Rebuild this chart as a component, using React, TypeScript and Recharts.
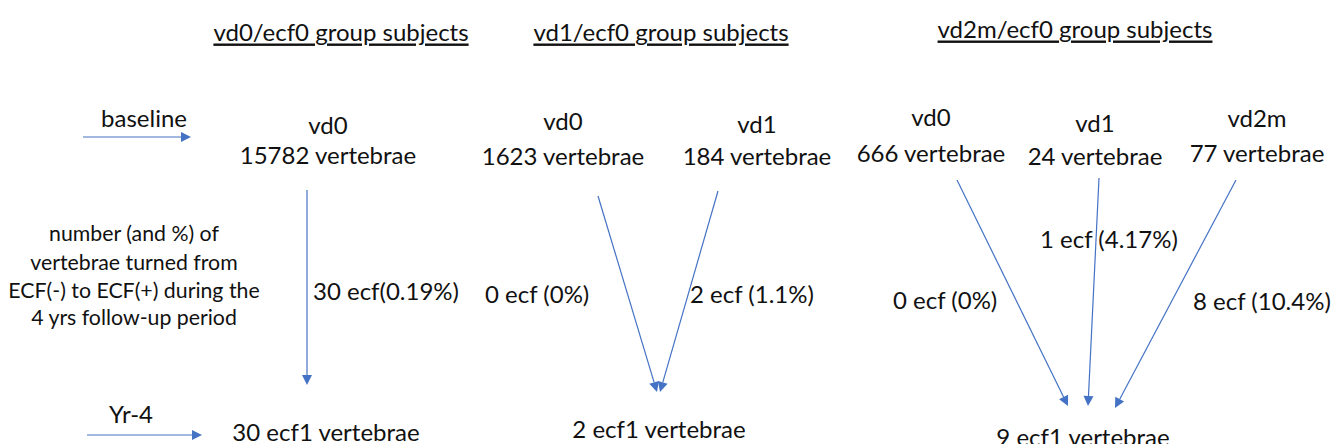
import React from "react";
import { ComposedChart, XAxis, YAxis, Scatter, ReferenceLine } from "recharts";

const W = 1331;
const H = 444;
const BLUE = "#4472C4";

// group headings
const groupTitles = ["vd0/ecf0 group subjects", "vd1/ecf0 group subjects", "vd2m/ecf0 group subjects"];
const groupTitleX = [341, 661, 1075];
const groupTitleY = [31, 31, 28];

// baseline nodes (vd grade + vertebrae count)
const baseNames = ["vd0", "vd0", "vd1", "vd0", "vd1", "vd2m"];
const baseCounts = [15782, 1623, 184, 666, 24, 77];
const baseX = [328, 563, 757, 931, 1095, 1257];
const baseNameY = [124, 120, 123, 116, 122, 117];
const baseCountY = [154, 155, 155, 152, 155, 152];

// ecf transitions during follow-up
const ecfLabels = ["30 ecf(0.19%)", "0 ecf (0%)", "2 ecf (1.1%)", "0 ecf (0%)", "1 ecf (4.17%)", "8 ecf (10.4%)"];
const ecfX = [313, 485, 690, 893, 1040, 1193];
const ecfY = [290, 293, 293, 299, 238, 300];

// year-4 outcome
const yr4Labels = ["30 ecf1 vertebrae", "2 ecf1 vertebrae", "9 ecf1 vertebrae"];
const yr4X = [326, 659, 1083];
const yr4Y = [431, 428, 436];

// left side notes
const noteLines = ["number (and %) of", "vertebrae turned from", "ECF(-) to ECF(+) during the", "4 yrs follow-up period"];
const noteY = [233, 262, 290, 317];
const timeLabels = ["baseline", "Yr-4"];
const timeX = [144, 131];
const timeY = [117, 413];

// arrows: [x1, y1, x2, y2]
const arrows = [
  [83, 137, 191, 137],
  [87, 435, 202, 435],
  [307, 190, 307, 385],
  [598, 196, 657, 392],
  [718, 191, 660, 392],
  [957, 180, 1068, 406],
  [1099, 178, 1088, 406],
  [1236, 180, 1115, 408],
];

const styles: { [k: string]: { size: number; anchor: string; underline?: boolean } } = {
  title: { size: 24, anchor: "middle", underline: true },
  node: { size: 24, anchor: "middle" },
  ecf: { size: 24, anchor: "start" },
  note: { size: 21.3, anchor: "middle" },
  time: { size: 24, anchor: "middle" },
};

const texts = [
  ...groupTitles.map((t, i) => ({ x: groupTitleX[i], y: groupTitleY[i], text: t, kind: "title" })),
  ...baseNames.map((t, i) => ({ x: baseX[i], y: baseNameY[i], text: t, kind: "node" })),
  ...baseCounts.map((c, i) => ({ x: baseX[i], y: baseCountY[i], text: `${c} vertebrae`, kind: "node" })),
  ...ecfLabels.map((t, i) => ({ x: ecfX[i], y: ecfY[i], text: t, kind: "ecf" })),
  ...yr4Labels.map((t, i) => ({ x: yr4X[i], y: yr4Y[i], text: t, kind: "node" })),
  ...noteLines.map((t, i) => ({ x: 134, y: noteY[i], text: t, kind: "note" })),
  ...timeLabels.map((t, i) => ({ x: timeX[i], y: timeY[i], text: t, kind: "time" })),
];

const TextShape = (props: any) => {
  const { cx, cy, payload } = props;
  const s = styles[payload.kind];
  return (
    <text
      x={cx}
      y={cy}
      textAnchor={s.anchor as any}
      dominantBaseline="central"
      fontSize={s.size}
      fill="#111"
      style={{ textDecoration: s.underline ? "underline" : "none" }}
    >
      {payload.text}
    </text>
  );
};

const ArrowShape = (props: any) => {
  const { x1, y1, x2, y2 } = props;
  const dx = x2 - x1;
  const dy = y2 - y1;
  const len = Math.sqrt(dx * dx + dy * dy) || 1;
  const ux = dx / len;
  const uy = dy / len;
  const hl = 10;
  const hw = 5;
  const bx = x2 - ux * hl;
  const by = y2 - uy * hl;
  const pts = `${x2},${y2} ${bx - uy * hw},${by + ux * hw} ${bx + uy * hw},${by - ux * hw}`;
  return (
    <g>
      <line x1={x1} y1={y1} x2={bx} y2={by} stroke={BLUE} strokeWidth={1.2} />
      <polygon points={pts} fill={BLUE} />
    </g>
  );
};

export default function App() {
  return (
    <div style={{ position: "absolute", left: 0, top: 0, background: "#fff", fontFamily: "Lato, 'Open Sans', sans-serif" }}>
      <ComposedChart width={W} height={H} margin={{ top: 0, right: 0, bottom: 0, left: 0 }}>
        <XAxis type="number" dataKey="x" domain={[0, W]} hide allowDataOverflow />
        <YAxis type="number" dataKey="y" domain={[0, H]} reversed hide allowDataOverflow />
        {arrows.map((a, i) => (
          <ReferenceLine
            key={`arrow-${i}`}
            segment={[{ x: a[0], y: a[1] }, { x: a[2], y: a[3] }]}
            shape={ArrowShape}
            ifOverflow="visible"
          />
        ))}
        <Scatter data={texts} dataKey="y" shape={TextShape} isAnimationActive={false} />
      </ComposedChart>
    </div>
  );
}
